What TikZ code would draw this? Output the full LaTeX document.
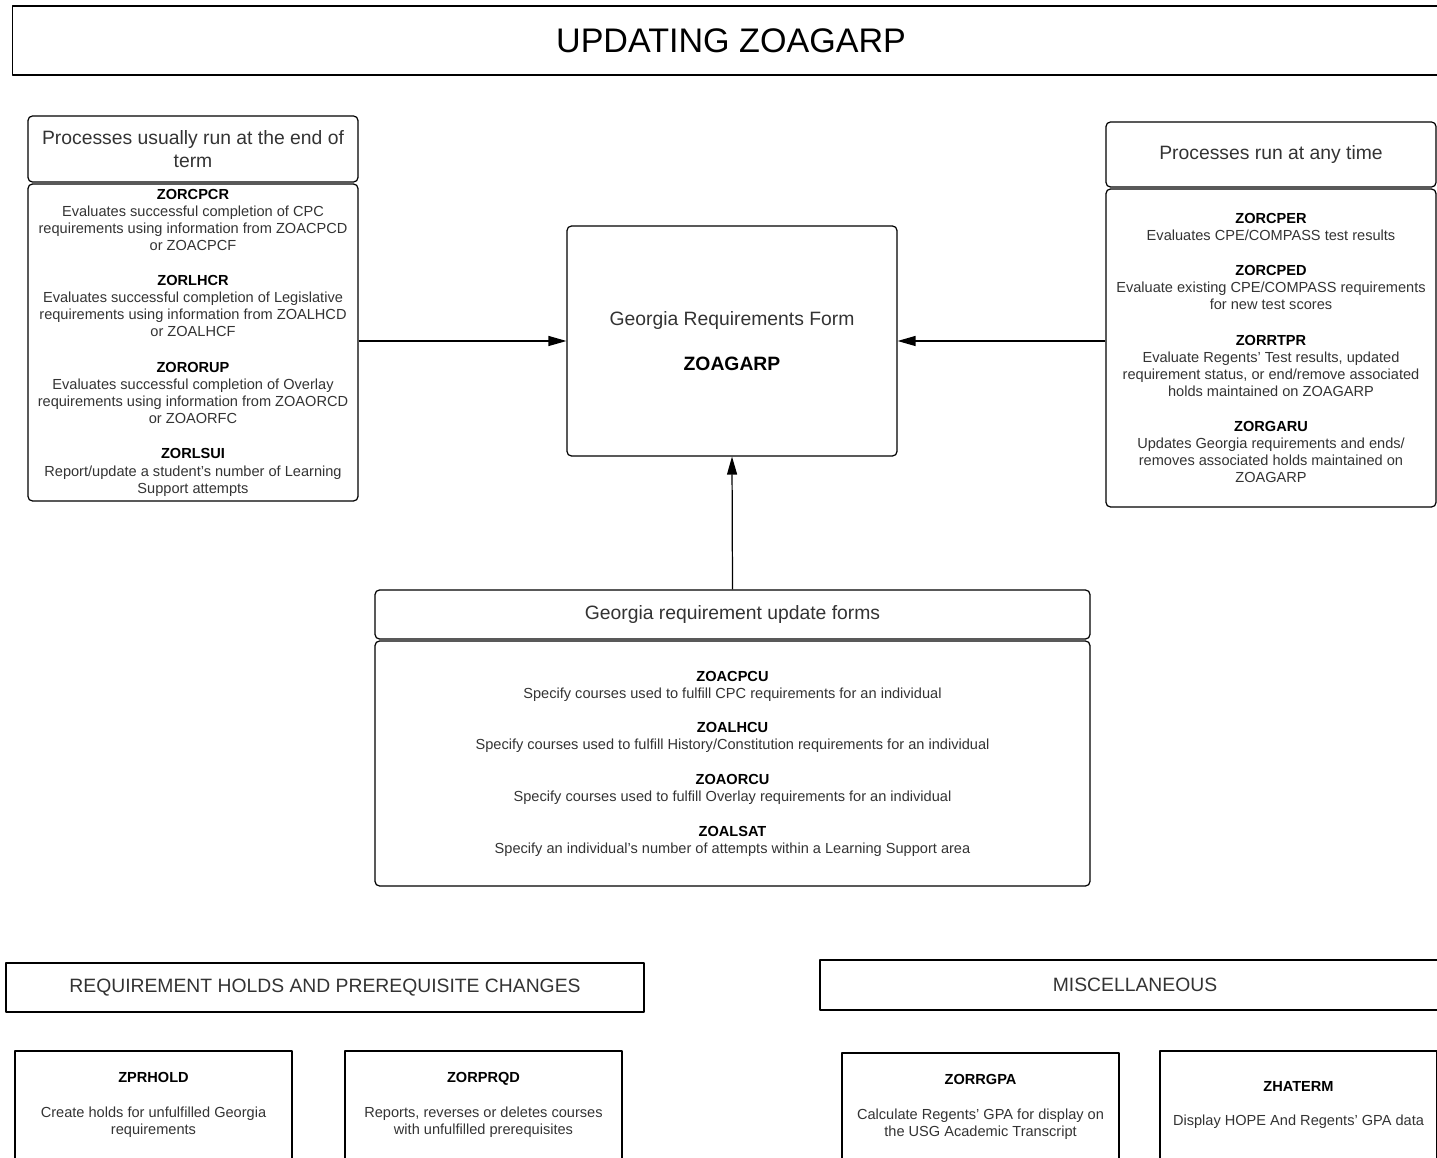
\documentclass[tikz,border=0pt]{standalone}
\usepackage{fontspec}
\setmainfont{Liberation Sans}
\usetikzlibrary{arrows.meta,positioning}
\newcommand{\prog}[1]{{\color{black}\bfseries #1}}
\begin{document}
\begin{tikzpicture}
    [x=0.02cm,y=-0.02cm,line join=round,
    % Styles
    box/.style={draw,rounded corners=2.5pt,line width=0.7pt,align=center,inner sep=0pt},
    plain box/.style={box,sharp corners},
    head text/.style={font=\fontsize{11}{13}\selectfont,text=textcolor},
    body text/.style={font=\fontsize{8.3}{9.7}\selectfont,text=textcolor},
    feed/.style={-{Triangle[length=0.36cm,width=0.2cm]},line width=0.7pt}]
    % Colors
    \colorlet{textcolor}{black!80}
    % Frame
    \useasboundingbox (0,0) rectangle (1437,1158);
    \clip (0,0) rectangle (1437,1158);
    % Title
    \node[plain box,minimum width=28.76cm,minimum height=1.38cm,
      font=\fontsize{19.4}{22}\selectfont] (title) at (731,40.5) {UPDATING ZOAGARP};
    % End of term
    \node[box,head text,minimum width=6.6cm,minimum height=1.32cm] (lhead) at (193,149)
      {Processes usually run at the end of\\term};
    \node[box,body text,minimum width=6.6cm,minimum height=6.34cm] (lbody) at (193,342.5)
      {\prog{ZORCPCR}\\Evaluates successful completion of CPC\\requirements using information from ZOACPCD\\or ZOACPCF\\[10.5pt]
       \prog{ZORLHCR}\\Evaluates successful completion of Legislative\\requirements using information from ZOALHCD\\or ZOALHCF\\[10.5pt]
       \prog{ZORORUP}\\Evaluates successful completion of Overlay\\requirements using information from ZOAORCD\\or ZOAORFC\\[10.5pt]
       \prog{ZORLSUI}\\Report/update a student's number of Learning\\Support attempts};
    % Any time
    \node[box,head text,minimum width=6.6cm,minimum height=1.3cm] (rhead) at (1271,154.5)
      {Processes run at any time};
    \node[box,body text,minimum width=6.6cm,minimum height=6.36cm] (rbody) at (1271,348)
      {\prog{ZORCPER}\\Evaluates CPE/COMPASS test results\\[10.5pt]
       \prog{ZORCPED}\\Evaluate existing CPE/COMPASS requirements\\for new test scores\\[10.5pt]
       \prog{ZORRTPR}\\Evaluate Regents' Test results, updated\\requirement status, or end/remove associated\\holds maintained on ZOAGARP\\[10.5pt]
       \prog{ZORGARU}\\Updates Georgia requirements and ends/\\removes associated holds maintained on\\ZOAGARP};
    % The form
    \node[box,head text,minimum width=6.6cm,minimum height=4.6cm] (centre) at (732,341)
      {Georgia Requirements Form\\[13pt]\prog{ZOAGARP}};
    % Update forms
    \node[box,head text,minimum width=14.3cm,minimum height=0.98cm] (mhead) at (732.5,614.5)
      {Georgia requirement update forms};
    \node[box,body text,minimum width=14.3cm,minimum height=4.9cm] (mbody) at (732.5,763.5)
      {\prog{ZOACPCU}\\Specify courses used to fulfill CPC requirements for an individual\\[10pt]
       \prog{ZOALHCU}\\Specify courses used to fulfill History/Constitution requirements for an individual\\[10pt]
       \prog{ZOAORCU}\\Specify courses used to fulfill Overlay requirements for an individual\\[10pt]
       \prog{ZOALSAT}\\Specify an individual's number of attempts within a Learning Support area};
    % Connectors
    \draw[feed] (lbody.east |- centre.west) -- (centre.west);
    \draw[feed] (rbody.west |- centre.east) -- (centre.east);
    \draw[feed] (mhead.north) -- (centre.south);
    % Holds and prerequisites
    \node[plain box,head text,minimum width=12.76cm,minimum height=0.98cm] (holds) at (325,987.5)
      {REQUIREMENT HOLDS AND PREREQUISITE CHANGES};
    \node[plain box,body text,minimum width=5.54cm,minimum height=2.16cm] (zprhold) at (153.5,1105)
      {\prog{ZPRHOLD}\\[10pt]Create holds for unfulfilled Georgia\\requirements};
    \node[plain box,body text,minimum width=5.54cm,minimum height=2.16cm] (zorprqd) at (483.5,1105)
      {\prog{ZORPRQD}\\[10pt]Reports, reverses or deletes courses\\with unfulfilled prerequisites};
    % Miscellaneous
    \node[plain box,head text,minimum width=12.6cm,minimum height=1cm] (misc) at (1135,985)
      {MISCELLANEOUS};
    \node[plain box,body text,minimum width=5.54cm,minimum height=2.16cm] (zorrgpa) at (980.5,1107)
      {\prog{ZORRGPA}\\[10pt]Calculate Regents' GPA for display on\\the USG Academic Transcript};
    \node[plain box,body text,minimum width=5.54cm,minimum height=2.16cm] (zhaterm) at (1298.5,1105)
      {\prog{ZHATERM}\\[10pt]Display HOPE And Regents' GPA data};
\end{tikzpicture}
\end{document}
